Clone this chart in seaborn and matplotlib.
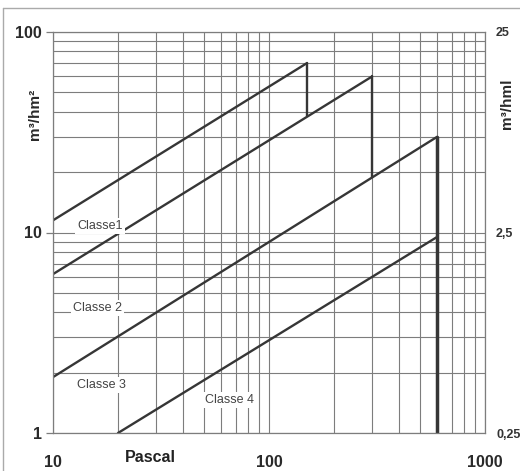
import numpy as np
import pandas as pd
import matplotlib
matplotlib.use("Agg")
import matplotlib.pyplot as plt
from matplotlib.lines import Line2D
from matplotlib.ticker import FixedLocator, NullFormatter
import seaborn as sns

# Valores (escala log-log)
classes = ["Classe1", "Classe 2", "Classe 3", "Classe 4"]
pa_inicio = [10, 10, 10, 20]
q_inicio = [11.5, 6.2, 1.9, 1.0]
pa_fim = [150, 300, 600, 600]
q_fim = [70, 60, 30, 9.5]
q_queda = [38, 19, 1.0, None]   # fim da linha vertical (Classe 4 não tem)

# posição dos rótulos
rot_x = [12.9, 12.4, 12.9, 50.6]
rot_y = [10.8, 4.2, 1.74, 1.46]

sns.set_style("white")
plt.rcParams["font.family"] = ["Liberation Sans", "DejaVu Sans"]

linhas = []
for i, c in enumerate(classes):
    linhas.append(pd.DataFrame({"seg": c, "pa": [pa_inicio[i], pa_fim[i]],
                                "q": [q_inicio[i], q_fim[i]]}))
df = pd.concat(linhas, ignore_index=True)

quedas = []
for i, c in enumerate(classes):
    if q_queda[i] is not None:
        quedas.append(pd.DataFrame({"seg": c, "pa": [pa_fim[i], pa_fim[i]],
                                    "q": [q_fim[i], q_queda[i]]}))
df_q = pd.concat(quedas, ignore_index=True)

fig = plt.figure(figsize=(5.2, 4.71), dpi=100)
ax = fig.add_axes([53 / 520, 1 - 433 / 471, 432 / 520, 401 / 471])
ax.set_xscale("log")
ax.set_yscale("log")
ax.set_xlim(10, 1000)
ax.set_ylim(1, 100)

cinza = "#7d7d7d"
ax.grid(which="both", color=cinza, lw=0.8)
ax.set_axisbelow(True)
for s in ax.spines.values():
    s.set_color(cinza)
    s.set_linewidth(0.9)

sns.lineplot(data=df, x="pa", y="q", units="seg", estimator=None, sort=False,
             color="#363636", lw=1.7, ax=ax, legend=False)
sns.lineplot(data=df_q[df_q["pa"] < 600], x="pa", y="q", units="seg", estimator=None,
             sort=False, color="#363636", lw=1.7, ax=ax, legend=False)
sns.lineplot(data=df_q[df_q["pa"] == 600], x="pa", y="q", estimator=None,
             sort=False, color="#363636", lw=2.5, ax=ax, legend=False)

for i, c in enumerate(classes):
    ax.text(rot_x[i], rot_y[i], c, fontsize=9, color="#444444", va="center",
            ha="left", bbox=dict(facecolor="white", edgecolor="none", pad=1.5))

ax.set_xticks([10, 100, 1000])
ax.set_xticklabels(["10", "100", "1000"], fontweight="bold")
ax.set_yticks([1, 10, 100])
ax.set_yticklabels(["1", "10", "100"], fontweight="bold")
ax.xaxis.set_minor_formatter(NullFormatter())
ax.yaxis.set_minor_formatter(NullFormatter())
ax.tick_params(axis="x", which="both", length=0, pad=16, labelsize=11.5, colors="#2a2a2a")
ax.tick_params(axis="y", which="major", length=5, width=0.9, color=cinza, pad=3,
               labelsize=11.5, labelcolor="#2a2a2a")
ax.tick_params(axis="y", which="minor", length=0)
ax.set_xlabel("")
ax.set_ylabel("")

ax.text(0.226, -0.06, "Pascal", transform=ax.transAxes, fontsize=11.5,
        fontweight="bold", color="#222222", ha="center", va="center")
fig.text(35 / 520, 1 - 114 / 471, "m³/hm²", rotation=90, fontsize=11,
         fontweight="bold", color="#2a2a2a", ha="center", va="center")

ax2 = ax.twinx()
ax2.set_yscale("log")
ax2.set_ylim(0.25, 25)
ax2.yaxis.set_major_locator(FixedLocator([0.25, 2.5, 25]))
ax2.set_yticklabels(["0,25", "2,5", "25"], fontweight="bold")
ax2.yaxis.set_minor_formatter(NullFormatter())
ax2.tick_params(axis="y", which="both", length=0, pad=8, labelsize=9, labelcolor="#333333")
for s in ax2.spines.values():
    s.set_visible(False)
fig.text(507 / 520, 1 - 104 / 471, "m³/hml", rotation=90, fontsize=11,
         fontweight="bold", color="#2a2a2a", ha="center", va="center")

# moldura da figura
fig.add_artist(Line2D([3 / 520, 3 / 520], [0, 1 - 8 / 471], color="#aaaaaa", lw=1,
                      transform=fig.transFigure))
fig.add_artist(Line2D([3 / 520, 1], [1 - 8 / 471, 1 - 8 / 471], color="#aaaaaa", lw=1,
                      transform=fig.transFigure))

fig.savefig("out.png", dpi=100)
